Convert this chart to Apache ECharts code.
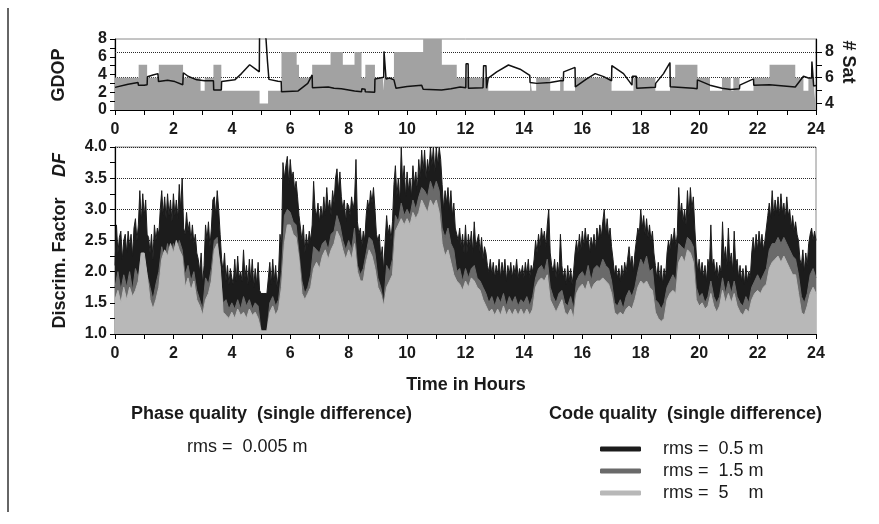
<!DOCTYPE html>
<html><head><meta charset="utf-8">
<script src="https://cdn.jsdelivr.net/npm/echarts@6/dist/echarts.min.js"></script>
<style>html,body{margin:0;padding:0;background:#fff}#c{width:879px;height:524px}</style>
</head><body><div id="c"></div>
<script>
// ---------- DATA ----------
// top panel: number of satellites (step function: [start hour, #sat])
const satSteps = [[0,6],[0.81,7],[1.1,6],[1.5,7],[2.33,6],[2.93,5],[3.07,6],[3.37,7],[3.64,5],[4.95,4],[5.24,5],[5.7,8],[6.22,7],[6.3,6],[6.75,7],[7.38,8],[7.8,7],[8.2,8],[8.44,6],[8.57,7],[8.9,6],[9.18,5],[9.22,6],[9.55,8],[10.55,9],[11.19,7],[11.7,6],[12.78,5],[14.21,6],[14.27,5],[14.42,6],[14.9,5],[15.24,6],[15.36,5],[15.75,6],[17.0,5],[17.75,6],[18.5,5],[19.0,6],[19.18,7],[19.94,6],[20.37,5],[20.78,6],[21.08,5],[21.17,6],[21.38,5],[21.86,6],[22.41,7],[23.29,6],[23.57,5],[23.74,6],[23.94,5],[24,5]];
// top panel: GDOP line [hour, GDOP]
const gdopLine = [[0,2.55],[0.45,2.9],[0.79,3.1],[0.8,2.8],[1.0,2.8],[1.1,2.85],[1.11,3.75],[1.3,3.95],[1.47,4.1],[1.49,3.2],[1.8,3.35],[2.05,3.2],[2.32,2.85],[2.34,4.2],[2.5,3.8],[2.8,3.4],[3.07,3.3],[3.37,3.3],[3.38,2.25],[3.64,2.25],[3.65,3.2],[4.1,3.4],[4.33,4.1],[4.61,5.1],[4.78,4.7],[4.94,4.3],[4.95,9],[5.1,9],[5.17,8.0],[5.22,5.5],[5.27,3.45],[5.58,3.25],[5.69,3.2],[5.7,2.07],[6.27,2.15],[6.28,2.3],[6.6,3.0],[6.75,3.95],[6.76,2.5],[7.3,2.6],[7.5,2.45],[7.75,2.4],[8.2,2.15],[8.44,2.05],[8.45,2.4],[8.56,2.35],[8.57,2.05],[8.89,2.0],[8.9,3.5],[9.2,3.7],[9.21,6.6],[9.27,6.6],[9.28,3.5],[9.4,3.6],[9.55,3.4],[9.62,2.45],[10.0,2.65],[10.5,2.8],[10.54,2.75],[10.55,2.35],[11.18,2.25],[11.5,2.4],[11.82,2.6],[12.01,2.5],[12.02,5.2],[12.09,5.2],[12.1,2.45],[12.6,2.5],[12.62,5.0],[12.7,5.0],[12.72,2.45],[12.77,2.45],[12.78,3.6],[13.07,4.3],[13.47,5.07],[13.87,4.6],[14.2,3.9],[14.21,3.1],[14.44,3.0],[14.9,3.1],[15.24,3.3],[15.35,3.3],[15.36,4.3],[15.75,4.8],[15.76,2.6],[16.15,3.5],[16.44,4.1],[16.73,3.76],[17.0,3.3],[17.01,5.0],[17.41,4.1],[17.7,2.8],[17.71,3.8],[17.85,3.8],[17.86,2.45],[18.5,2.55],[18.51,3.0],[18.78,4.1],[19.0,5.34],[19.01,2.63],[19.8,2.45],[19.93,2.4],[19.94,3.4],[20.37,2.8],[20.78,2.45],[21.08,2.3],[21.1,2.45],[21.38,2.4],[21.39,2.8],[21.86,3.5],[21.87,2.8],[22.41,2.85],[23.29,2.6],[23.3,2.45],[23.57,3.8],[23.74,3.6],[23.85,3.6],[23.86,5.45],[23.91,5.45],[23.92,2.7],[24,2.75]];
// bottom panel: discrimination factor, code rms 0.5 m (every 0.05 h)
const dfBlackStep = 0.05;
const dfBlack = [
2.1,2.75,2.3,2.55,2.65,2.2,2.5,2.6,2.3,2.65,2.4,2.6,2.25,2.7,2.85,2.5,2.75,3.3,2.8,3.25,
2.9,3.15,2.6,2.55,2.3,2.6,2.2,2.75,2.5,2.7,2.6,3.0,3.3,2.9,3.2,2.85,3.25,2.9,3.15,2.8,
3.25,2.9,3.15,2.85,3.4,3.0,3.5,2.7,2.6,2.95,2.65,2.8,2.5,2.75,2.45,2.6,2.3,2.2,2.0,2.3,
1.8,2.1,2.75,2.5,2.8,2.4,2.7,3.15,3.2,2.9,3.3,3.0,2.6,2.2,2.0,2.3,1.85,2.1,1.8,2.05,
1.9,1.8,2.2,1.85,2.25,1.9,2.0,1.85,2.35,1.9,2.1,1.8,2.2,1.85,2.2,1.75,2.05,1.8,2.15,1.7,
1.65,1.65,1.65,1.65,1.65,1.9,2.15,1.8,2.2,1.85,2.1,1.75,2.0,2.6,2.4,3.75,3.5,3.7,3.85,3.4,
3.8,3.5,3.6,3.3,3.45,3.2,2.9,2.7,2.5,2.75,2.3,2.6,2.4,2.65,2.5,2.75,3.45,3.0,2.9,3.1,
2.8,3.05,2.85,3.2,2.9,3.35,3.0,3.15,2.9,3.3,3.1,3.5,3.65,3.3,3.6,3.2,3.0,3.15,2.8,3.1,
3.05,2.9,3.2,3.0,3.15,3.8,2.8,2.6,2.7,2.4,2.65,2.5,2.9,3.15,3.0,3.3,3.1,3.35,3.0,2.6,
2.5,2.6,2.2,2.4,2.0,2.5,2.9,2.6,2.75,2.5,2.8,3.4,3.7,3.2,3.5,3.1,4.0,3.4,3.7,3.2,
3.6,3.3,3.5,3.2,3.7,3.4,3.6,3.3,3.8,3.5,3.95,3.6,3.95,3.5,3.8,3.6,4.0,3.7,4.0,3.6,
4.0,3.7,4.0,3.8,3.4,3.0,3.3,3.1,3.35,3.0,3.3,2.9,3.1,2.7,2.6,2.5,2.7,2.4,2.6,2.3,
2.75,2.3,2.6,2.4,2.65,2.3,2.8,2.4,2.5,2.6,2.3,2.55,2.2,2.4,2.3,2.1,2.0,2.2,1.95,2.15,
1.9,2.1,1.95,2.2,1.9,2.15,1.95,2.2,1.85,2.1,1.95,2.15,1.9,2.1,1.95,2.2,1.9,2.05,1.95,2.1,
1.9,2.15,1.95,2.2,1.9,2.1,2.0,2.2,2.5,2.3,2.6,2.4,2.7,2.5,2.65,2.4,2.75,3.0,2.3,2.1,
2.0,2.2,1.9,2.15,1.95,2.6,2.1,1.9,2.05,1.8,2.1,1.85,2.05,1.8,2.0,2.3,2.5,2.3,2.6,2.35,
2.65,2.4,2.7,2.45,2.6,2.3,2.55,2.4,2.6,2.35,2.7,2.5,2.75,2.55,2.8,3.0,2.6,2.85,2.55,2.7,
2.4,2.2,1.95,2.1,1.9,2.05,1.85,2.1,1.9,2.15,2.0,2.2,2.4,2.1,2.25,2.0,2.3,2.5,2.7,2.6,
3.0,2.7,2.9,2.6,2.85,2.55,2.75,2.5,2.65,2.3,2.1,1.9,2.15,1.85,2.1,1.8,2.05,1.9,2.3,2.5,
2.35,2.6,2.45,2.7,2.4,2.6,3.35,2.9,3.1,2.8,3.0,2.75,3.3,2.9,3.35,3.0,3.2,2.7,2.3,2.0,
2.2,1.95,2.15,1.9,2.1,1.85,2.2,2.05,2.75,2.1,2.2,1.95,2.15,1.9,2.1,2.0,2.8,2.2,2.4,2.1,
2.7,2.15,2.3,2.0,2.65,2.1,2.2,1.9,2.1,1.85,2.05,1.8,2.1,1.85,2.0,1.9,2.3,2.55,2.3,2.6,
2.35,2.65,2.4,2.6,2.35,2.5,2.7,2.9,3.1,2.85,3.3,2.9,3.15,2.95,3.2,2.9,3.25,2.95,3.1,2.85,
3.2,2.9,3.0,2.7,2.9,2.65,2.8,2.6,2.5,2.2,2.1,2.35,2.0,2.3,2.1,2.45,2.6,2.7,2.5,2.65,
2.5];
// code rms 1.5 m and 5 m (every 0.1 h)
const dfStep = 0.1;
const dfDark = [
1.75,2.0,1.7,1.95,1.75,2.0,1.7,2.05,1.9,2.3,
2.2,1.95,1.75,1.55,1.8,2.0,2.4,2.2,2.45,2.2,
2.45,2.25,2.5,2.35,1.95,2.1,1.85,2.0,1.7,1.55,
1.4,1.9,1.8,2.05,2.5,2.55,2.0,1.5,1.55,1.4,
1.5,1.4,1.55,1.4,1.6,1.45,1.55,1.4,1.5,1.45,
1.05,1.05,1.05,1.5,1.6,1.45,1.55,2.0,2.9,3.0,
2.95,2.8,2.75,2.3,1.85,1.65,1.75,1.95,2.4,2.35,
2.3,2.45,2.5,2.35,2.6,2.65,2.9,2.75,2.5,2.35,
2.5,2.35,2.7,2.1,1.95,2.05,2.3,2.55,2.5,2.3,
1.9,1.75,1.5,2.1,2.0,2.2,2.9,2.8,3.1,2.9,
3.0,2.9,3.15,3.0,3.2,3.35,3.3,3.2,3.45,3.3,
3.45,3.3,2.7,2.55,2.7,2.45,2.35,2.0,2.05,1.85,
2.05,1.9,2.05,2.1,1.9,1.85,1.75,1.65,1.5,1.6,
1.45,1.6,1.5,1.65,1.45,1.6,1.5,1.6,1.45,1.55,
1.5,1.6,1.45,1.6,1.9,2.05,2.1,2.0,2.2,1.75,
1.6,1.5,1.65,1.7,1.5,1.45,1.6,1.4,1.85,1.95,
2.0,1.9,2.1,1.85,2.05,2.1,2.05,2.2,2.1,2.05,
1.85,1.5,1.45,1.55,1.4,1.6,1.7,1.6,1.75,2.0,
2.2,2.1,2.25,2.0,2.05,1.55,1.5,1.4,1.5,1.75,
1.85,1.95,1.85,2.45,2.4,2.35,2.55,2.5,2.4,1.75,
1.6,1.65,1.5,1.6,1.85,1.6,1.5,1.6,1.9,1.65,
1.85,1.65,1.85,1.6,1.5,1.45,1.6,1.5,1.75,1.85,
1.95,1.85,1.95,2.05,2.35,2.45,2.45,2.55,2.45,2.55,
2.45,2.35,2.25,2.2,1.95,1.6,1.5,1.65,1.95,2.05,
1.9];
const dfLight = [
1.55,1.7,1.5,1.75,1.55,1.75,1.6,1.7,1.85,2.3,
2.3,1.95,1.55,1.4,1.55,1.75,2.2,2.35,2.25,2.45,
2.3,2.5,2.35,2.25,1.75,1.9,1.7,1.85,1.55,1.45,
1.3,1.55,1.65,1.85,2.35,2.45,2.1,1.35,1.3,1.25,
1.35,1.25,1.4,1.3,1.35,1.25,1.4,1.3,1.35,1.25,
1.05,1.05,1.05,1.35,1.45,1.3,1.4,1.75,2.45,2.75,
2.75,2.6,2.55,2.2,1.65,1.55,1.65,1.75,2.05,2.15,
2.05,2.25,2.35,2.2,2.35,2.45,2.65,2.55,2.35,2.2,
2.35,2.2,2.45,2.0,1.85,1.85,2.15,2.35,2.25,2.05,
1.75,1.65,1.45,1.75,1.85,1.95,2.65,2.75,2.85,2.75,
2.85,2.75,2.95,2.85,2.95,3.15,3.05,2.95,3.15,3.05,
3.15,2.95,2.45,2.25,2.35,2.15,1.95,1.85,1.8,1.7,
1.85,1.75,1.9,1.85,1.75,1.7,1.55,1.45,1.35,1.4,
1.3,1.4,1.3,1.45,1.3,1.4,1.3,1.4,1.3,1.4,
1.3,1.4,1.3,1.4,1.75,1.85,1.9,1.85,1.95,1.55,
1.45,1.35,1.45,1.55,1.35,1.3,1.4,1.25,1.65,1.75,
1.8,1.7,1.85,1.7,1.8,1.85,1.85,1.9,1.85,1.8,
1.65,1.35,1.3,1.35,1.3,1.4,1.45,1.4,1.55,1.75,
1.85,1.8,1.85,1.75,1.7,1.35,1.25,1.2,1.25,1.55,
1.65,1.7,1.65,2.15,2.25,2.15,2.35,2.3,2.15,1.55,
1.45,1.5,1.4,1.45,1.65,1.45,1.35,1.45,1.7,1.5,
1.65,1.5,1.65,1.45,1.35,1.3,1.4,1.35,1.55,1.65,
1.7,1.65,1.75,1.8,2.05,2.15,2.2,2.25,2.15,2.25,
2.15,2.05,1.95,1.95,1.65,1.35,1.3,1.45,1.65,1.75,
1.65];
const satLabels = [4, 6, 8];
const satTicks = [4, 5, 6, 7, 8];
const satGrid = [6, 8];
const codeNames = ['rms =  0.5 m', 'rms =  1.5 m', 'rms =  5    m'];

// ---------- CHART ----------
const FF = '"Liberation Sans", Arial, Helvetica, sans-serif';
const TXT = '#1a1a1a';
const C_BLACK = '#1c1c1c', C_DARK = '#6a6a6a', C_LIGHT = '#b8b8b8', C_SAT = '#a2a2a2';
const toPairs = (arr, step) => arr.map((v, i) => [+(i * step).toFixed(3), v]);
const lbl = {fontFamily: FF, fontSize: 16, fontWeight: 'bold', color: TXT};
const tick = {show: true, inside: false, length: 5, lineStyle: {color: '#000', width: 1}};
const axLine = {show: true, lineStyle: {color: '#000', width: 1.2}};

const chart = echarts.init(document.getElementById('c'), null, {renderer: 'canvas'});
chart.setOption({
  animation: false,
  backgroundColor: '#fff',
  grid: [
    {left: 115, top: 39, width: 701, height: 71, show: true, borderColor: '#8a8a8a', borderWidth: 1, backgroundColor: 'transparent'},
    {left: 115, top: 147, width: 701, height: 187, show: true, borderColor: '#8a8a8a', borderWidth: 1, backgroundColor: 'transparent'}
  ],
  xAxis: [
    {type: 'value', gridIndex: 0, min: 0, max: 24, interval: 1, axisLine: axLine, axisTick: tick,
     axisLabel: Object.assign({margin: 12, formatter: v => (v % 2 === 0 ? String(v) : '')}, lbl), splitLine: {show: false}},
    {type: 'value', gridIndex: 1, min: 0, max: 24, interval: 1, axisLine: axLine, axisTick: tick,
     axisLabel: Object.assign({margin: 12, formatter: v => (v % 2 === 0 ? String(v) : '')}, lbl), splitLine: {show: false}}
  ],
  yAxis: [
    {type: 'value', gridIndex: 0, min: 0, max: 8, interval: 1, axisLine: axLine, axisTick: tick,
     axisLabel: Object.assign({margin: 8, formatter: v => (v % 2 === 0 ? String(v) : '')}, lbl), splitLine: {show: false}},
    {type: 'value', gridIndex: 0, position: 'right', min: 3.5, max: 9, axisLine: axLine,
     axisTick: Object.assign({customValues: satTicks}, tick, {length: 6}),
     axisLabel: Object.assign({margin: 9, customValues: satLabels}, lbl), splitLine: {show: false}},
    {type: 'value', gridIndex: 1, min: 1, max: 4, interval: 0.25, axisLine: axLine, axisTick: tick,
     axisLabel: Object.assign({margin: 8, formatter: v => (Math.abs(v * 2 - Math.round(v * 2)) < 1e-6 ? v.toFixed(1) : '')}, lbl),
     splitLine: {show: true, lineStyle: {type: 'dotted', width: 1, color: ['#2a2a2a', 'rgba(0,0,0,0)']}}}
  ],
  legend: {
    data: codeNames, orient: 'vertical', left: 595, top: 435, itemWidth: 41, itemHeight: 5, itemGap: 4,
    icon: 'roundRect', selectedMode: false,
    textStyle: {fontFamily: FF, fontSize: 18, color: TXT, padding: [0, 0, 0, 17], lineHeight: 18}
  },
  series: [
    {name: 'satgrid', type: 'line', xAxisIndex: 0, yAxisIndex: 1, data: [], z: 1,
     markLine: {silent: true, z: 1, symbol: 'none', label: {show: false}, animation: false,
       lineStyle: {type: 'dotted', color: '#2a2a2a', width: 1},
       data: satGrid.map(v => ({yAxis: v}))}},
    {name: '# Sat', type: 'line', xAxisIndex: 0, yAxisIndex: 1, step: 'end', data: satSteps, z: 2,
     showSymbol: false, symbol: 'none', lineStyle: {width: 0, color: C_SAT}, itemStyle: {color: C_SAT},
     areaStyle: {color: C_SAT, opacity: 1, origin: 'start'}},
    {name: 'GDOP', type: 'line', xAxisIndex: 0, yAxisIndex: 0, data: gdopLine, z: 3, clip: true,
     showSymbol: false, symbol: 'none', lineStyle: {width: 1.5, color: '#111'}},
    {name: codeNames[0], type: 'line', xAxisIndex: 1, yAxisIndex: 2, data: toPairs(dfBlack, dfBlackStep), z: 2,
     showSymbol: false, symbol: 'none', lineStyle: {width: 1, color: C_BLACK}, itemStyle: {color: C_BLACK},
     areaStyle: {color: C_BLACK, opacity: 1, origin: 'start'}},
    {name: codeNames[1], type: 'line', xAxisIndex: 1, yAxisIndex: 2, data: toPairs(dfDark, dfStep), z: 3,
     showSymbol: false, symbol: 'none', lineStyle: {width: 1, color: C_DARK}, itemStyle: {color: C_DARK},
     areaStyle: {color: C_DARK, opacity: 1, origin: 'start'}},
    {name: codeNames[2], type: 'line', xAxisIndex: 1, yAxisIndex: 2, data: toPairs(dfLight, dfStep), z: 4,
     showSymbol: false, symbol: 'none', lineStyle: {width: 1, color: C_LIGHT}, itemStyle: {color: C_LIGHT},
     areaStyle: {color: C_LIGHT, opacity: 1, origin: 'start'}}
  ],
  graphic: [
    {type: 'line', shape: {x1: 8, y1: 8, x2: 8, y2: 512}, style: {stroke: '#666', lineWidth: 2}, silent: true},
    {type: 'text', x: 59, y: 75, rotation: Math.PI / 2,
     style: {text: 'GDOP', font: 'bold 18px ' + FF, fill: TXT, align: 'center', verticalAlign: 'middle'}},
    {type: 'text', x: 848, y: 62, rotation: -Math.PI / 2,
     style: {text: '# Sat', font: 'bold 18px ' + FF, fill: TXT, align: 'center', verticalAlign: 'middle'}},
    {type: 'text', x: 60, y: 263, rotation: Math.PI / 2,
     style: {text: 'Discrim. Factor', font: 'bold 18px ' + FF, fill: TXT, align: 'center', verticalAlign: 'middle'}},
    {type: 'text', x: 60, y: 165, rotation: Math.PI / 2,
     style: {text: 'DF', font: 'italic bold 18px ' + FF, fill: TXT, align: 'center', verticalAlign: 'middle'}},
    {type: 'text', x: 466, y: 385,
     style: {text: 'Time in Hours', font: 'bold 18px ' + FF, fill: TXT, align: 'center', verticalAlign: 'middle'}},
    {type: 'text', x: 131, y: 414,
     style: {text: 'Phase quality  (single difference)', font: 'bold 18px ' + FF, fill: TXT, align: 'left', verticalAlign: 'middle'}},
    {type: 'text', x: 187, y: 447,
     style: {text: 'rms =  0.005 m', font: '18px ' + FF, fill: TXT, align: 'left', verticalAlign: 'middle'}},
    {type: 'text', x: 549, y: 414,
     style: {text: 'Code quality  (single difference)', font: 'bold 18px ' + FF, fill: TXT, align: 'left', verticalAlign: 'middle'}}
  ]
});
</script>
</body></html>
